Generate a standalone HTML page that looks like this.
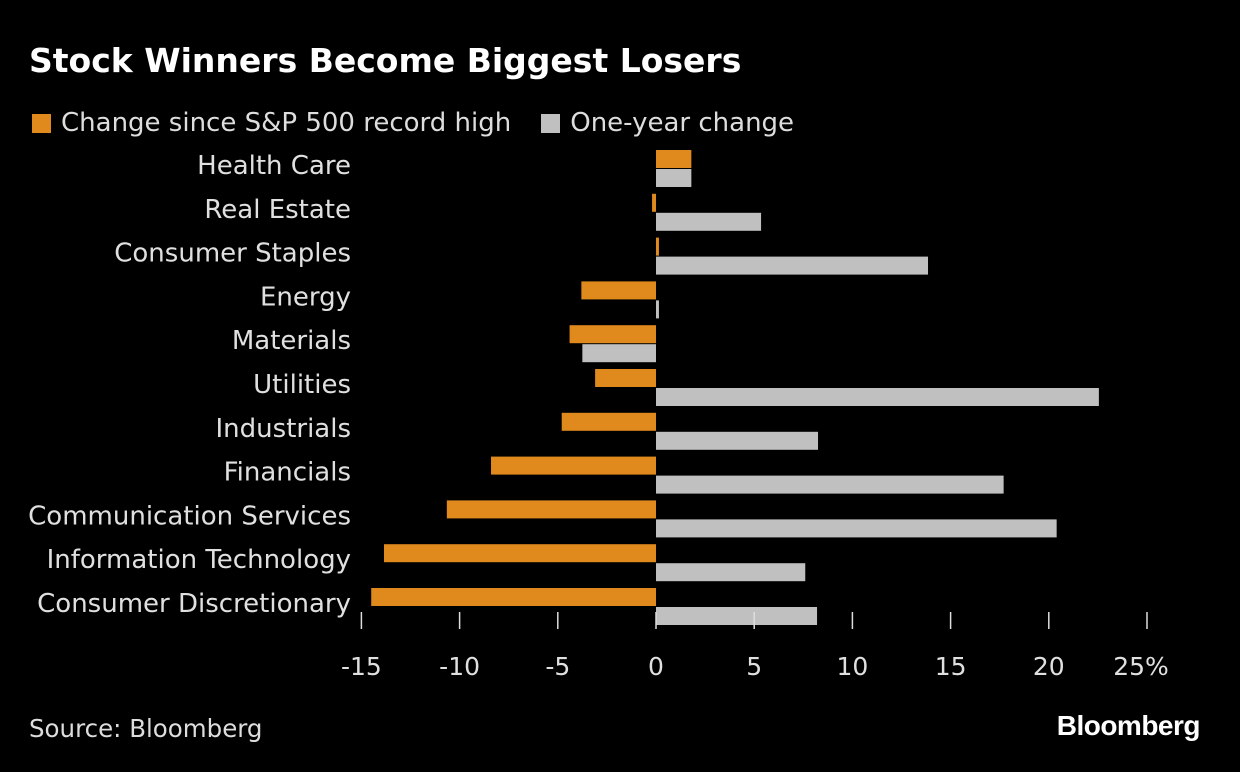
<!DOCTYPE html>
<html><head><meta charset="utf-8"><style>
html,body{margin:0;padding:0;background:#000;}
body{width:1240px;height:772px;overflow:hidden;position:relative;font-family:"DejaVu Sans","Liberation Sans",sans-serif;color:#e6e6e6;}
#title{position:absolute;left:29px;top:41px;font-family:"DejaVu Sans",sans-serif;font-weight:bold;font-size:33px;color:#fff;}
#legend{position:absolute;left:32px;top:108px;font-size:26px;color:#ddd;display:flex;align-items:center;}
.sw{display:inline-block;width:19px;height:19px;margin-right:10px;}
#source{position:absolute;left:29px;top:714px;font-size:24.5px;color:#ddd;}
#brand{position:absolute;right:40px;top:710px;font-family:"Liberation Sans",sans-serif;font-weight:bold;font-size:28px;color:#fff;letter-spacing:-0.5px;}
svg{position:absolute;left:0;top:0;}
</style></head><body>
<div id="title">Stock Winners Become Biggest Losers</div>
<div id="legend">
<span style="display:flex;align-items:center;margin-right:30px"><span class="sw" style="background:#e08a1e"></span>Change since S&amp;P 500 record high</span>
<span style="display:flex;align-items:center"><span class="sw" style="background:#c0c0c0"></span>One-year change</span>
</div>
<svg id="chart" width="1240" height="772"></svg>
<div id="source">Source: Bloomberg</div>
<div id="brand">Bloomberg</div>
<script>
const categories=["Health Care","Real Estate","Consumer Staples","Energy","Materials","Utilities","Industrials","Financials","Communication Services","Information Technology","Consumer Discretionary"];
const sinceHigh=[1.8,-0.2,0.15,-3.8,-4.4,-3.1,-4.8,-8.4,-10.65,-13.85,-14.5];
const oneYear=[1.8,5.35,13.85,0.15,-3.75,22.55,8.25,17.7,20.4,7.6,8.2];
const ticks=[-15,-10,-5,0,5,10,15,20,25];
const tickLabels=["-15","-10","-5","0","5","10","15","20","25%"];
const NS="http://www.w3.org/2000/svg";
const svg=document.getElementById('chart');
const x=v=>656+v*19.64;
const yc=i=>165+i*43.8;
function mk(t,a){const e=document.createElementNS(NS,t);for(const k in a)e.setAttribute(k,a[k]);svg.appendChild(e);return e;}
categories.forEach((c,i)=>{
  const t=mk('text',{x:351,y:yc(i)+9,'text-anchor':'end','font-size':26,fill:'#e0e0e0'});
  t.textContent=c;
  
  
  const v1=sinceHigh[i],v2=oneYear[i];
  const r1=mk('rect',{x:Math.min(x(0),x(v1)),y:yc(i)-15,width:Math.max(Math.abs(x(v1)-x(0)),1.5),height:18,fill:'#e08a1e'});
  
  
  const r2=mk('rect',{x:Math.min(x(0),x(v2)),y:yc(i)+4,width:Math.max(Math.abs(x(v2)-x(0)),1.5),height:18,fill:'#c0c0c0'});
  
  
});
ticks.forEach((v,i)=>{
  const l=mk('line',{x1:x(v),x2:x(v),y1:612,y2:629,stroke:'#ddd','stroke-width':1.5});
  
  
  const t=mk('text',{x:x(v)+(i==ticks.length-1?-6:0),y:675,'text-anchor':'middle','font-size':25,fill:'#e0e0e0'});
  t.textContent=tickLabels[i];
  
  
});
</script>
</body></html>
